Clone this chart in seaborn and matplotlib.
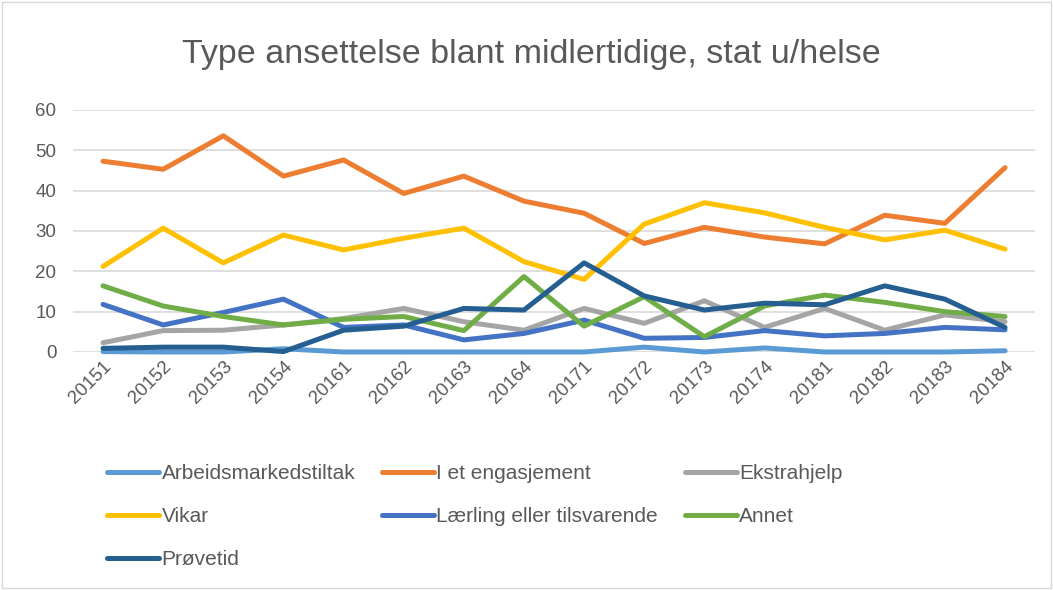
import matplotlib
matplotlib.use("Agg")
import matplotlib.pyplot as plt
import pandas as pd
import seaborn as sns
from matplotlib.patches import Rectangle

quarters = ["20151", "20152", "20153", "20154", "20161", "20162", "20163", "20164",
            "20171", "20172", "20173", "20174", "20181", "20182", "20183", "20184"]

arbeidsmarkedstiltak = [0.1, 0.0, 0.0, 0.8, 0.0, 0.0, 0.0, 0.0, 0.0, 1.2, 0.0, 1.0, 0.0, 0.0, 0.0, 0.3]
engasjement = [47.3, 45.3, 53.6, 43.6, 47.6, 39.3, 43.6, 37.4, 34.4, 26.9, 30.9, 28.5, 26.8, 33.9, 31.9, 45.7]
ekstrahjelp = [2.3, 5.3, 5.4, 6.7, 8.3, 10.8, 7.5, 5.4, 10.8, 7.1, 12.7, 6.1, 10.8, 5.4, 9.2, 7.5]
vikar = [21.2, 30.7, 22.1, 29.0, 25.3, 28.2, 30.7, 22.4, 18.0, 31.7, 37.0, 34.5, 30.9, 27.8, 30.2, 25.5]
laerling = [11.8, 6.7, 9.8, 13.1, 6.1, 6.7, 3.0, 4.6, 7.9, 3.4, 3.6, 5.3, 4.0, 4.6, 6.1, 5.5]
annet = [16.4, 11.4, 8.8, 6.7, 8.1, 8.8, 5.3, 18.7, 6.4, 13.7, 3.8, 11.4, 14.1, 12.3, 10.0, 8.8]
provetid = [0.9, 1.2, 1.2, 0.1, 5.4, 6.4, 10.8, 10.4, 22.1, 13.9, 10.4, 12.1, 11.7, 16.4, 13.1, 6.1]

series = {
    "Arbeidsmarkedstiltak": arbeidsmarkedstiltak,
    "I et engasjement": engasjement,
    "Ekstrahjelp": ekstrahjelp,
    "Vikar": vikar,
    "Lærling eller tilsvarende": laerling,
    "Annet": annet,
    "Prøvetid": provetid,
}
colors = ["#5B9BD5", "#ED7D31", "#A5A5A5", "#FFC000", "#4472C4", "#70AD47", "#255E91"]

df = pd.DataFrame([
    {"kvartal": q, "andel": v, "type": name}
    for name, vals in series.items()
    for q, v in zip(quarters, vals)
])

sns.set_theme(style="white")
plt.rcParams["font.family"] = ["Liberation Sans", "DejaVu Sans"]
text_color = "#595959"

fig = plt.figure(figsize=(10.53, 5.90), dpi=100)
ax = fig.add_axes([0.0693, 0.4034, 0.9137, 0.4102])

sns.lineplot(data=df, x="kvartal", y="andel", hue="type", palette=colors,
             sort=False, linewidth=3.6, ax=ax, legend=True)
for line in ax.lines:
    line.set_solid_capstyle("round")
    line.set_solid_joinstyle("round")
    line.set_clip_on(False)

ax.set_xlim(-0.5, len(quarters) - 0.5)
ax.set_ylim(0, 60)
ax.set_yticks(range(0, 61, 10))
ax.yaxis.grid(True, color="#D9D9D9", linewidth=1.2)
ax.set_axisbelow(True)
for s in ax.spines.values():
    s.set_visible(False)
ax.set_xlabel("")
ax.set_ylabel("")
ax.tick_params(axis="y", labelsize=13.5, colors=text_color, length=0, pad=12)
ax.tick_params(axis="x", labelsize=13.5, colors=text_color, length=0, pad=4)
for lbl in ax.get_xticklabels():
    lbl.set_rotation(45)
    lbl.set_ha("right")
    lbl.set_rotation_mode("anchor")

# legend is filled column by column, reorder so it reads row by row
handles, labels = ax.get_legend_handles_labels()
ax.get_legend().remove()
order = [0, 3, 6, 1, 4, 2, 5]
fig.legend([handles[i] for i in order], [labels[i] for i in order],
           loc="upper left", bbox_to_anchor=(0.092, 0.231), borderpad=0,
           ncol=3, frameon=False, fontsize=15, handlelength=2.5, handletextpad=0.1,
           columnspacing=1.3, labelspacing=1.15, labelcolor=text_color)

fig.text(0.505, 0.907, "Type ansettelse blant midlertidige, stat u/helse",
         ha="center", va="center", fontsize=24.5, color=text_color)

fig.patches.append(Rectangle((0.002, 0.003), 0.996, 0.994, transform=fig.transFigure,
                             fill=False, edgecolor="#D9D9D9", linewidth=1))

fig.savefig("out.png", dpi=100)
plt.close(fig)
